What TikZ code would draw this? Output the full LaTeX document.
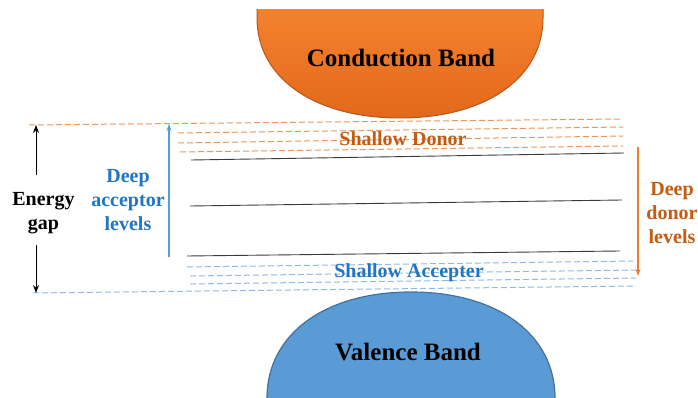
\documentclass[tikz,border=0pt]{standalone}
\usepackage{fontspec}
\setmainfont{Liberation Serif}
\usetikzlibrary{arrows.meta}

\definecolor{cbTop}{HTML}{F5832F}
\definecolor{cbBot}{HTML}{E2691B}
\definecolor{cbRim}{HTML}{B8561A}
\definecolor{vbFill}{HTML}{5B9BD5}
\definecolor{vbRim}{HTML}{41719C}
\definecolor{donorTxt}{HTML}{C55A11}
\definecolor{donorLine}{HTML}{EE9655}
\definecolor{donorArrow}{HTML}{ED7D31}
\definecolor{accTxt}{HTML}{2275C2}
\definecolor{accLine}{HTML}{8DBBE6}
\definecolor{accArrow}{HTML}{5B9BD5}
\definecolor{levelLine}{HTML}{3A3A3A}

\tikzset{
  bandtext/.style={font=\fontsize{25}{30}\selectfont\bfseries, text=black, inner sep=0pt},
  labeltext/.style={font=\fontsize{20}{24}\selectfont\bfseries, align=center, inner sep=0pt},
  donordash/.style={draw=donorLine, line width=1pt, dash pattern=on 6pt off 3pt},
  accdash/.style={draw=accLine, line width=1pt, dash pattern=on 6pt off 3pt},
  deepline/.style={draw=levelLine, line width=0.9pt},
  gaparrow/.style={draw=black, line width=1pt, -{Stealth[length=8pt,width=6pt]}},
  levelarrow/.style={line width=1.3pt, -{Stealth[length=7pt,width=5pt]}},
}

\begin{document}
\begin{tikzpicture}[x=1pt,y=-1pt]
\useasboundingbox (0,0) rectangle (698,398);

% conduction band: lower part of a rounded oval, cut off at the top
\begin{scope}
  \clip (0,10) rectangle (698,398);
  \shade[top color=cbTop, bottom color=cbBot]
    (257,0) -- (257,18) .. controls (257,78) and (314.2,118) .. (400,118)
    .. controls (485.8,118) and (543,78) .. (543,18) -- (543,0) -- cycle;
  \draw[cbRim, line width=1pt]
    (257,0) -- (257,18) .. controls (257,78) and (314.2,118) .. (400,118)
    .. controls (485.8,118) and (543,78) .. (543,18) -- (543,0);
\end{scope}
\node[bandtext, anchor=base] (cbtext) at (401,67) {Conduction Band};

% valence band: upper part of a rounded oval, cut off at the bottom
\begin{scope}
  \clip (0,0) rectangle (698,398);
  \filldraw[fill=vbFill, draw=vbRim, line width=1.2pt]
    (267,402) -- (267,398) .. controls (267,334.4) and (324.6,292) .. (411,292)
    .. controls (497.4,292) and (555,334.4) .. (555,398) -- (555,402) -- cycle;
\end{scope}
\node[bandtext, anchor=base] (vbtext) at (408,360) {Valence Band};

% shallow donor levels
\coordinate (d1a) at (29,125);  \coordinate (d1b) at (622,119);
\coordinate (d2a) at (178,133); \coordinate (d2b) at (623,127);
\coordinate (d3a) at (178,143); \coordinate (d3b) at (623,136);
\coordinate (d4a) at (180,152); \coordinate (d4b) at (623,146);
\draw[donordash] (d1a) -- (d1b);
\draw[donordash] (d2a) -- (d2b);
\draw[donordash] (d3a) -- (d3b);
\draw[donordash] (d4a) -- (d4b);

% deep levels
\coordinate (l1a) at (191,160); \coordinate (l1b) at (624,153);
\coordinate (l2a) at (190,206); \coordinate (l2b) at (622,200);
\coordinate (l3a) at (187,256); \coordinate (l3b) at (620,251);
\draw[deepline] (l1a) -- (l1b);
\draw[deepline] (l2a) -- (l2b);
\draw[deepline] (l3a) -- (l3b);

% shallow acceptor levels
\coordinate (a1a) at (187,267); \coordinate (a1b) at (633,261);
\coordinate (a2a) at (190,276); \coordinate (a2b) at (636,270);
\coordinate (a3a) at (190,284); \coordinate (a3b) at (636,278);
\coordinate (a4a) at (33,293);  \coordinate (a4b) at (636,286);
\draw[accdash] (a1a) -- (a1b);
\draw[accdash] (a2a) -- (a2b);
\draw[accdash] (a3a) -- (a3b);
\draw[accdash] (a4a) -- (a4b);

% level labels
\node[labeltext, text=donorTxt, anchor=base] (sd) at (403,146) {Shallow Donor};
\node[labeltext, text=accTxt, anchor=base] (sa) at (409,277) {Shallow Accepter};

% energy gap
\node[labeltext, text=black] (eg) at (43.5,213) {Energy\\gap};
\coordinate (egtop) at (36,125);
\coordinate (egbot) at (36,293);
\draw[gaparrow] (36,175) -- (egtop);
\draw[gaparrow] (36,245) -- (egbot);

% deep acceptor levels
\node[labeltext, text=accTxt] (dal) at (128,200) {Deep\\acceptor\\levels};
\coordinate (daS) at (169,257); \coordinate (daE) at (169,124);
\draw[levelarrow, draw=accArrow] (daS) -- (daE);

% deep donor levels
\node[labeltext, text=donorTxt] (ddl) at (672,213) {Deep\\donor\\levels};
\coordinate (ddS) at (638,147); \coordinate (ddE) at (638,276);
\draw[levelarrow, draw=donorArrow] (ddS) -- (ddE);
\end{tikzpicture}
\end{document}
